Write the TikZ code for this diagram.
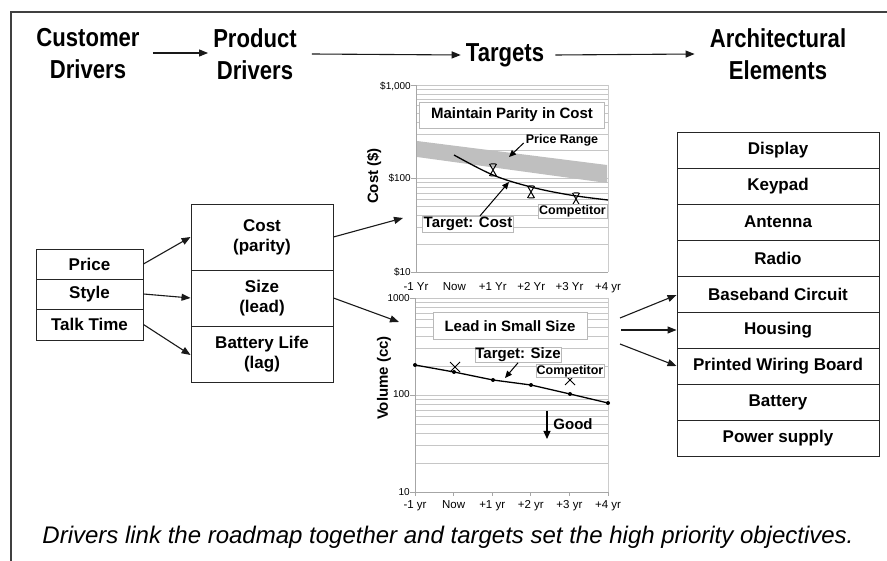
\documentclass[tikz,border=0pt]{standalone}
\usepackage{fontspec}
\setmainfont{Liberation Sans}
\newfontfamily\narrowsf[FakeStretch=0.85]{Liberation Sans}
\usetikzlibrary{arrows.meta,calc}

\begin{document}
\begin{tikzpicture}[x=1pt,y=-1pt,
  hdr/.style={font=\narrowsf\bfseries\fontsize{26}{32}\selectfont, align=center, inner sep=1pt},
  cell/.style={draw=black!85, line width=0.9pt, font=\bfseries\fontsize{17}{20}\selectfont,
    align=center, inner sep=0pt},
  flow/.style={-{Triangle[length=9pt,width=7pt]}, line width=1.1pt, black!90},
  thinarr/.style={-{Triangle[length=7pt,width=6pt]}, line width=1pt, black},
  grid/.style={gray!45, line width=0.6pt},
  axisline/.style={gray!70, line width=0.8pt},
  tick/.style={font=\fontsize{10}{12}\selectfont, inner sep=1pt, anchor=east},
  xlab/.style={font=\fontsize{11.5}{13}\selectfont, inner sep=0pt, anchor=base},
  tag/.style={draw=gray!55, line width=0.6pt, fill=white, inner sep=1.5pt,
    font=\bfseries\fontsize{15}{17}\selectfont},
  smalltag/.style={draw=gray!55, line width=0.6pt, fill=white, inner sep=1pt,
    font=\bfseries\fontsize{12.5}{14}\selectfont},
  ylab/.style={rotate=90, font=\bfseries\fontsize{15}{17}\selectfont, inner sep=0pt},
  series/.style={line width=1.3pt, black},
  cross/.style={line width=1pt, black},
]
\useasboundingbox (0,0) rectangle (887,561);

% frame
\draw[black!75, line width=1.8pt] (11,561) -- (11,12) -- (887,12);

% header
\node[hdr] (cust) at (88,54) {Customer\\Drivers};
\node[hdr] (prod) at (255,54) {Product\\Drivers};
\node[hdr] (targ) at (505,55) {Targets};
\node[hdr] (arch) at (778,54) {Architectural\\Elements};
\draw[flow] ([xshift=12pt,yshift=1pt]cust.east) -- ([xshift=-4pt,yshift=1pt]prod.west);
\draw[flow] ([xshift=14pt]prod.east) -- ([xshift=-4pt]targ.west);
\draw[flow] ([xshift=10pt]targ.east) -- ([xshift=-14pt]arch.west);

% customer drivers
\node[cell, minimum width=107pt, minimum height=30pt] (price) at (89.5,264) {Price};
\node[cell, minimum width=107pt, minimum height=30pt] (style) at (89.5,294) {Style};
\node[cell, minimum width=107pt, minimum height=31pt] (talk) at (89.5,324.5) {Talk Time};

% product drivers
\node[cell, minimum width=142pt, minimum height=66pt] (cost) at (262,237) {Cost\\(parity)};
\node[cell, minimum width=142pt, minimum height=56pt] (size) at (262,298) {Size\\(lead)};
\node[cell, minimum width=142pt, minimum height=56pt] (batt) at (262,354) {Battery Life\\(lag)};

\draw[flow] (price.east) -- (cost.west);
\draw[flow] (style.east) -- (size.west);
\draw[flow] (talk.east) -- ([yshift=-1pt]batt.west);

% architectural elements
\foreach \nm/\txt [count=\i from 0] in {disp/Display, keyp/Keypad, ante/Antenna, radi/Radio,
    base/Baseband Circuit, hous/Housing, pwb/Printed Wiring Board, batr/Battery, pows/Power supply}{
  \node[cell, minimum width=202pt, minimum height=36pt] (\nm) at (778,150+36*\i) {\txt};
}

% ---------- cost chart ----------
\foreach \d in {10,100}{
  \foreach \m in {2,...,9}{
    \pgfmathsetmacro\yy{272-93.5*log10(\d*\m/10)}
    \draw[grid] (416,\yy) -- (608,\yy);
  }
}
\draw[grid] (416,85) -- (608,85);
\draw[grid] (416,178.5) -- (608,178.5);
\draw[gray!40, line width=0.6pt] (608,85) -- (608,272);
\draw[axisline] (416,85) -- (416,272) -- (608,272);
\foreach \yy in {85,178.5,272} \draw[axisline] (411,\yy) -- (416,\yy);
\node[tick] (c1000) at (412,86) {\$1,000};
\node[tick] (c100) at (412,178.5) {\$100};
\node[tick] (c10) at (412,272) {\$10};
\node[ylab] (costlab) at (374,176) {Cost (\$)};

% price range band
\fill[gray!50] (417,141) -- (607,165) -- (607,183) -- (417,157) -- cycle;

\node[tag, minimum width=185pt, minimum height=26pt] (parity) at (512,115) {Maintain Parity in Cost};

% target cost curve
\draw[series] plot[smooth, tension=0.6] coordinates {(454,155) (493,175) (531,187) (570,195) (608,200)};
% competitor points
\foreach \cx/\cy in {493/170, 531/192, 576/199}{
  \draw[cross] (\cx-3.5,\cy-6) -- (\cx+3.5,\cy+6) (\cx+3.5,\cy-6) -- (\cx-3.5,\cy+6)
    (\cx-2.5,\cy-6) -- (\cx+2.5,\cy-6) (\cx-2.5,\cy+6) -- (\cx+2.5,\cy+6);
}
\node[font=\bfseries\fontsize{12.5}{14}\selectfont, inner sep=0pt] (prange) at (562,140) {Price Range};
\coordinate (bandpt) at (509,157);
\draw[thinarr] ([xshift=-2pt,yshift=-3pt]prange.west) -- (bandpt);
\node[smalltag] (compa) at (572.5,211) {Competitor};
\node[tag, inner sep=1pt] (tcost) at (468,224) {Target: Cost};
\coordinate (costpt) at (509,182);
\draw[thinarr] ([xshift=12pt]tcost.north) -- (costpt);

% year labels
\foreach \lab [count=\i from 0] in {-1 Yr, Now, +1 Yr, +2 Yr, +3 Yr, +4 yr}{
  \node[xlab] at (416+38.4*\i,291) {\lab};
}

% ---------- size chart ----------
\foreach \d in {10,100}{
  \foreach \m in {2,...,9}{
    \pgfmathsetmacro\yy{492-97*log10(\d*\m/10)}
    \draw[grid] (415,\yy) -- (608,\yy);
  }
}
\draw[grid] (415,298) -- (608,298);
\draw[grid] (415,395) -- (608,395);
\draw[gray!40, line width=0.6pt] (608,298) -- (608,492);
\draw[axisline] (415,298) -- (415,492) -- (608,492);
\foreach \yy in {298,395,492} \draw[axisline] (410,\yy) -- (415,\yy);
\foreach \i in {0,...,5} \draw[axisline] (415+38.6*\i,492) -- (415+38.6*\i,496);
\node[tick] (v1000) at (411,298) {1000};
\node[tick] (v100) at (411,394) {100};
\node[tick] (v10) at (411,492) {10};
\node[ylab] (vollab) at (384,378) {Volume (cc)};

\node[tag, minimum width=154pt, minimum height=27pt] (lead) at (510,326) {Lead in Small Size};

% target size line
\draw[series] (415,365) -- (454,372) -- (493,380) -- (531,385) -- (570,394) -- (608,403);
\foreach \px/\py in {415/365, 454/372, 493/380, 531/385, 570/394, 608/403}
  \fill (\px,\py) circle (2pt);
% competitor points
\foreach \cx/\cy in {455/367, 570/380}{
  \draw[cross] (\cx-5,\cy-5) -- (\cx+5,\cy+5) (\cx+5,\cy-5) -- (\cx-5,\cy+5);
}
\node[tag, inner sep=0.5pt] (tsize) at (518,355) {Target: Size};
\coordinate (sizept) at (505,378);
\draw[thinarr] (tsize.south) -- (sizept);
\node[smalltag, inner sep=0.5pt] (compb) at (570,371) {Competitor};

\coordinate (goodtop) at (547,411);
\coordinate (goodbot) at (547,439);
\draw[-{Triangle[length=8pt,width=7pt]}, line width=1.2pt] (goodtop) -- (goodbot);
\node[font=\bfseries\fontsize{15}{17}\selectfont, inner sep=0pt] (good) at (573,424) {Good};

\foreach \lab [count=\i from 0] in {-1 yr, Now, +1 yr, +2 yr, +3 yr, +4 yr}{
  \node[xlab] at (415+38.6*\i,508) {\lab};
}

% links between the columns
\coordinate (costin) at (403,218);
\coordinate (sizein) at (399,322);
\draw[flow] (cost.east) -- (costin);
\draw[flow] (size.east) -- (sizein);

\coordinate (outa) at (620,318);
\coordinate (outb) at (621,330);
\coordinate (outc) at (620,344);
\draw[flow] (outa) -- ([yshift=-1pt]base.west);
\draw[flow] (outb) -- (hous.west);
\draw[flow] (outc) -- (pwb.west);

% caption
\node[font=\itshape\fontsize{24}{28}\selectfont, inner sep=0pt] (caption) at (448,537)
  {Drivers link the roadmap together and targets set the high priority objectives.};
\end{tikzpicture}
\end{document}
